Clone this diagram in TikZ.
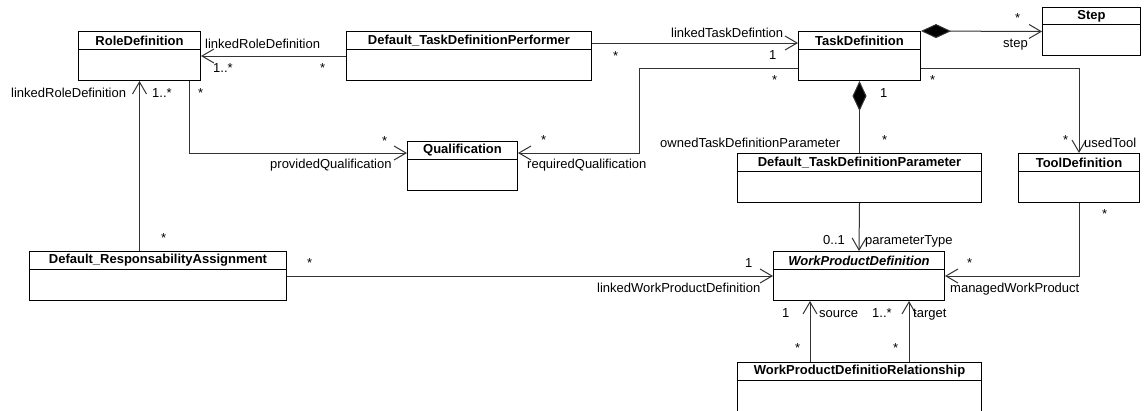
\documentclass[tikz,border=0pt]{standalone}
\usepackage{fontspec}
\setmainfont{Liberation Sans}
\usetikzlibrary{arrows.meta,calc}
\begin{document}
\begin{tikzpicture}[x=1pt,y=-1pt,
 cls/.style={draw=black, line width=1pt, fill=white, minimum height=49pt, anchor=north west, inner sep=0pt},
 hdr/.style={draw=black, line width=1pt, minimum height=18pt, anchor=north, inner sep=0pt, font=\fontsize{13}{15}\selectfont\bfseries},
 lbl/.style={anchor=base west, inner sep=0pt, font=\fontsize{13}{15}\selectfont},
 barb/.tip={Straight Barb[length=12pt,width=14pt]},
 dia/.tip={Diamond[length=30pt,width=14pt,fill=black]},
 plain/.style={draw=black!80, line width=1pt},
 assoc/.style={plain, -barb},
 comp/.style={plain, dia-},
]
\useasboundingbox (0,0) rectangle (1146,410);
\fill[white] (0,0) rectangle (1146,410);

% classes
\node[cls, minimum width=122pt] (role) at (78,31) {};
\node[hdr, minimum width=122pt] (roleH) at (role.north) {RoleDefinition};
\node[cls, minimum width=245pt] (dtp) at (346,31) {};
\node[hdr, minimum width=245pt] (dtpH) at (dtp.north) {Default\_TaskDefinitionPerformer};
\node[cls, minimum width=122pt] (task) at (798,31) {};
\node[hdr, minimum width=122pt] (taskH) at (task.north) {TaskDefinition};
\node[cls, minimum width=98pt, minimum height=48pt] (step) at (1042,7) {};
\node[hdr, minimum width=98pt, minimum height=17pt] (stepH) at (step.north) {Step};
\node[cls, minimum width=110pt] (qual) at (407,141) {};
\node[hdr, minimum width=110pt] (qualH) at (qual.north) {Qualification};
\node[cls, minimum width=244pt] (dtdp) at (737,153) {};
\node[hdr, minimum width=244pt] (dtdpH) at (dtdp.north) {Default\_TaskDefinitionParameter};
\node[cls, minimum width=121pt] (tool) at (1018,153) {};
\node[hdr, minimum width=121pt] (toolH) at (tool.north) {ToolDefinition};
\node[cls, minimum width=257pt] (dra) at (29,251) {};
\node[hdr, minimum width=257pt] (draH) at (dra.north) {Default\_ResponsabilityAssignment};
\node[cls, minimum width=171pt] (wpd) at (773,251) {};
\node[hdr, minimum width=171pt, font=\fontsize{13}{15}\selectfont\bfseries\itshape] (wpdH) at (wpd.north) {WorkProductDefinition};
\node[cls, minimum width=244pt, minimum height=52pt] (wpdr) at (737,362) {};
\node[hdr, minimum width=244pt] (wpdrH) at (wpdr.north) {WorkProductDefinitioRelationship};

% connectors
\draw[assoc] (dtp.west) -- (role.east);
\draw[assoc] ([yshift=-12pt]dtp.north east) -- ([yshift=-12pt]task.north west);
\draw[assoc] ([yshift=-37pt]task.north west) -- ++(-159,0) |- ([yshift=-12pt]qual.north east);
\draw[assoc] ([xshift=-12pt]role.south east) |- ([yshift=-12pt]qual.north west);
\draw[assoc] (dra.north -| role.south) -- (role.south);
\draw[assoc] (dra.east) -- (wpd.west);
\draw[plain, dia-barb] (task.north east) -- (step.west);
\draw[comp] (task.south) -- (dtdp.north);
\draw[assoc] ([yshift=-37pt]task.north east) -| (tool.north);
\draw[assoc] (dtdp.south) -- (wpd.north);
\draw[assoc] (tool.south) |- (wpd.east);
\coordinate (src) at ([xshift=37pt]wpd.south west);
\coordinate (tgt) at ([xshift=-36pt]wpd.south east);
\draw[assoc] (wpdr.north -| src) -- (src);
\draw[assoc] (wpdr.north -| tgt) -- (tgt);

% labels
\node[lbl] (l1) at (205,48) {linkedRoleDefinition};
\node[lbl] (l2) at (213,72) {1..*};
\node[lbl] (l3) at (320,72) {*};
\node[lbl] (l4) at (671,37) {linkedTaskDefintion};
\node[lbl] (l5) at (769,59) {1};
\node[lbl] (l6) at (613,60) {*};
\node[lbl] (l7) at (772,84) {*};
\node[lbl] (l8) at (541,144) {*};
\node[lbl] (l9) at (527,168) {requiredQualification};
\node[lbl] (l10) at (270,168) {providedQualification};
\node[lbl] (l11) at (382,145) {*};
\node[lbl] (l12) at (198,97) {*};
\node[lbl] (l13) at (11,97) {linkedRoleDefinition};
\node[lbl] (l14) at (152,97) {1..*};
\node[lbl] (l15) at (161,242) {*};
\node[lbl] (l16) at (307,267) {*};
\node[lbl] (l17) at (745,267) {1};
\node[lbl] (l18) at (597,292) {linkedWorkProductDefinition};
\node[lbl] (l19) at (823,244) {0..1};
\node[lbl] (l20) at (865,244) {parameterType};
\node[lbl] (l21) at (660,147) {ownedTaskDefinitionParameter};
\node[lbl] (l22) at (882,144) {*};
\node[lbl] (l23) at (880,97) {1};
\node[lbl] (l24) at (930,84) {*};
\node[lbl] (l25) at (1063,144) {*};
\node[lbl] (l26) at (1084,147) {usedTool};
\node[lbl] (l27) at (1015,22) {*};
\node[lbl] (l28) at (1003,47) {step};
\node[lbl] (l29) at (1102,218) {*};
\node[lbl] (l30) at (967,267) {*};
\node[lbl] (l31) at (950,292) {managedWorkProduct};
\node[lbl] (l32) at (782,317) {1};
\node[lbl] (l33) at (819,317) {source};
\node[lbl] (l34) at (872,317) {1..*};
\node[lbl] (l35) at (913,317) {target};
\node[lbl] (l36) at (795,352) {*};
\node[lbl] (l37) at (893,352) {*};
\end{tikzpicture}
\end{document}
